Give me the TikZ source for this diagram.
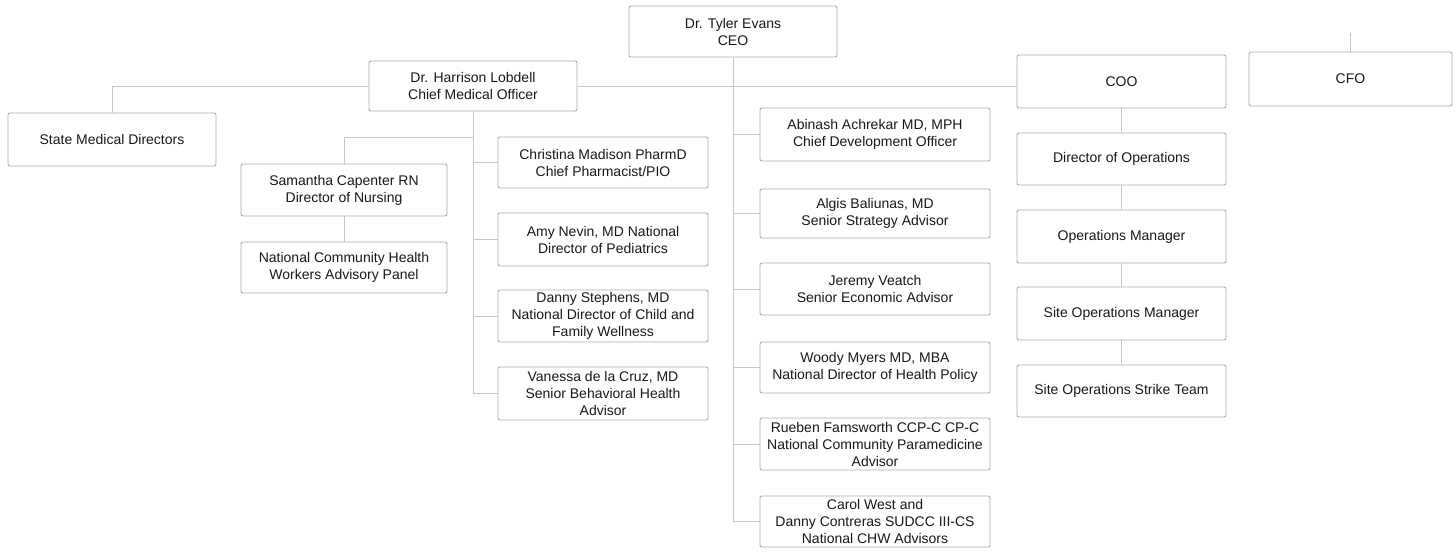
\documentclass[tikz,border=0pt]{standalone}
\usepackage{fontspec}
\setmainfont{Liberation Sans}
\begin{document}
\begin{tikzpicture}[x=1pt,y=-1pt,
  box/.style={draw=black!32, line width=0.9pt, rounded corners=2pt, fill=white,
    inner sep=0pt, align=center, text=black!90,
    font=\fontsize{14}{17}\selectfont},
  link/.style={draw=black!22, line width=0.9pt}]
\fill[white] (0,0) rectangle (1456,552);
\useasboundingbox (0,0) rectangle (1456,552);

% top level
\node[box, minimum width=208pt, minimum height=51pt] (ceo) at (733,31.5) {Dr. Tyler Evans\\CEO};
\node[box, minimum width=208pt, minimum height=50pt] (cmo) at (473,86) {Dr. Harrison Lobdell\\Chief Medical Officer};
\node[box, minimum width=209pt, minimum height=53pt] (coo) at (1121.5,81.5) {COO};
\node[box, minimum width=203pt, minimum height=54pt] (cfo) at (1350.5,79) {CFO};

% CMO branch
\node[box, minimum width=208pt, minimum height=53pt] (state) at (112,139.5) {State Medical Directors};
\node[box, minimum width=206pt, minimum height=52pt] (sam) at (344,190) {Samantha Capenter RN\\Director of Nursing};
\node[box, minimum width=206pt, minimum height=51pt] (nchw) at (344,267.5) {National Community Health\\Workers Advisory Panel};
\node[box, minimum width=210pt, minimum height=51pt] (chris) at (603,162.5) {Christina Madison PharmD\\Chief Pharmacist/PIO};
\node[box, minimum width=210pt, minimum height=53pt] (amy) at (603,239.5) {Amy Nevin, MD National\\Director of Pediatrics};
\node[box, minimum width=210pt, minimum height=52pt] (danny) at (603,316) {Danny Stephens, MD\\National Director of Child and\\Family Wellness};
\node[box, minimum width=210pt, minimum height=53pt] (van) at (603,393.5) {Vanessa de la Cruz, MD\\Senior Behavioral Health\\Advisor};

% CEO advisors
\node[box, minimum width=230pt, minimum height=53pt] (abi) at (875,134.5) {Abinash Achrekar MD, MPH\\Chief Development Officer};
\node[box, minimum width=230pt, minimum height=49pt] (algis) at (875,213.5) {Algis Baliunas, MD\\Senior Strategy Advisor};
\node[box, minimum width=230pt, minimum height=52pt] (jer) at (875,289) {Jeremy Veatch\\Senior Economic Advisor};
\node[box, minimum width=230pt, minimum height=51pt] (woody) at (875,367.5) {Woody Myers MD, MBA\\National Director of Health Policy};
\node[box, minimum width=230pt, minimum height=52pt] (rue) at (875,444) {Rueben Famsworth CCP-C CP-C\\National Community Paramedicine\\Advisor};
\node[box, minimum width=230pt, minimum height=51pt] (carol) at (875,521.5) {Carol West and\\Danny Contreras SUDCC III-CS\\National CHW Advisors};

% COO branch
\node[box, minimum width=209pt, minimum height=52pt] (dops) at (1121.5,159) {Director of Operations};
\node[box, minimum width=209pt, minimum height=53pt] (opsm) at (1121.5,236.5) {Operations Manager};
\node[box, minimum width=209pt, minimum height=53pt] (siteom) at (1121.5,313.5) {Site Operations Manager};
\node[box, minimum width=209pt, minimum height=52pt] (strike) at (1121.5,391) {Site Operations Strike Team};

% connectors
\coordinate (ceotrunk) at (ceo.south |- carol.west);
\coordinate (cmotrunk) at (cmo.south |- van.west);
\coordinate (nursebr) at (473,137);
\coordinate (cfotop) at (1350.5,33);

\draw[link] (ceo.south) -- (ceotrunk);
\foreach \n in {abi,algis,jer,woody,rue,carol}
  \draw[link] (ceo.south |- \n.west) -- (\n.west);
\draw[link] (cmo.east) -- (coo.west |- cmo.east);
\draw[link] (cmo.west) -| (state.north);
\draw[link] (cmo.south) -- (cmotrunk);
\foreach \n in {chris,amy,danny,van}
  \draw[link] (cmo.south |- \n.west) -- (\n.west);
\draw[link] (nursebr) -| (sam.north);
\draw[link] (sam.south) -- (nchw.north);
\draw[link] (coo.south) -- (dops.north);
\draw[link] (dops.south) -- (opsm.north);
\draw[link] (opsm.south) -- (siteom.north);
\draw[link] (siteom.south) -- (strike.north);
\draw[link] (cfo.north) -- (cfotop);
\end{tikzpicture}
\end{document}
